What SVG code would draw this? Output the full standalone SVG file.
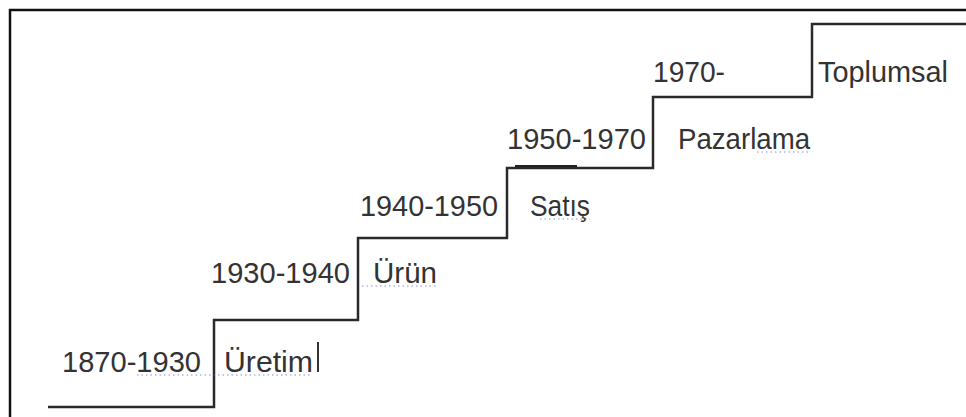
<svg xmlns="http://www.w3.org/2000/svg" width="966" height="417" viewBox="0 0 966 417">
  <style>
    .frame { fill: none; stroke: #111; stroke-width: 2.5; }
    .stair { fill: none; stroke: #2a2a2a; stroke-width: 2.5; stroke-linejoin: miter; }
    .label { font-family: "Liberation Sans", Arial, sans-serif; font-size: 29px; fill: #333; }
    .spell { stroke: #5a5ad8; stroke-width: 1; stroke-dasharray: 1.5 3; opacity: 0.7; }
    .mark { stroke: #333; stroke-width: 2; }
  </style>
  <rect width="966" height="417" fill="#fff"/>

  <!-- page frame: top and left edges -->
  <path class="frame" d="M10,417 V10 H966"/>

  <!-- staircase -->
  <g id="connectors">
    <path class="stair" d="M48,407 H214 V320 H358 V238 H507 V168 H653 V97 H812 V24 H966"/>
    <line x1="515" y1="166" x2="577" y2="166" stroke="#222" stroke-width="2"/>
  </g>

  <g id="step-1870">
    <text class="label" x="62" y="372" textLength="139" lengthAdjust="spacingAndGlyphs">1870-1930</text>
    <text class="label" x="224" y="372" textLength="89" lengthAdjust="spacingAndGlyphs">Üretim</text>
    <line class="mark" x1="318" y1="342" x2="318" y2="372"/>
    <line class="spell" x1="137" y1="375" x2="312" y2="375"/>
  </g>

  <g id="step-1930">
    <text class="label" x="211" y="283" textLength="139" lengthAdjust="spacingAndGlyphs">1930-1940</text>
    <text class="label" x="373" y="283" textLength="64" lengthAdjust="spacingAndGlyphs">Ürün</text>
    <line class="spell" x1="362" y1="286" x2="438" y2="286"/>
  </g>

  <g id="step-1940">
    <text class="label" x="360" y="216" textLength="138" lengthAdjust="spacingAndGlyphs">1940-1950</text>
    <text class="label" x="530" y="216" textLength="60" lengthAdjust="spacingAndGlyphs">Satış</text>
    <line class="spell" x1="540" y1="219" x2="590" y2="219"/>
  </g>

  <g id="step-1950">
    <text class="label" x="507" y="149" textLength="139" lengthAdjust="spacingAndGlyphs">1950-1970</text>
    <text class="label" x="678" y="149" textLength="132" lengthAdjust="spacingAndGlyphs">Pazarlama</text>
    <line class="spell" x1="757" y1="152" x2="810" y2="152"/>
  </g>

  <g id="step-1970">
    <text class="label" x="653" y="82" textLength="72" lengthAdjust="spacingAndGlyphs">1970-</text>
    <text class="label" x="818" y="82" textLength="130" lengthAdjust="spacingAndGlyphs">Toplumsal</text>
  </g>
</svg>
